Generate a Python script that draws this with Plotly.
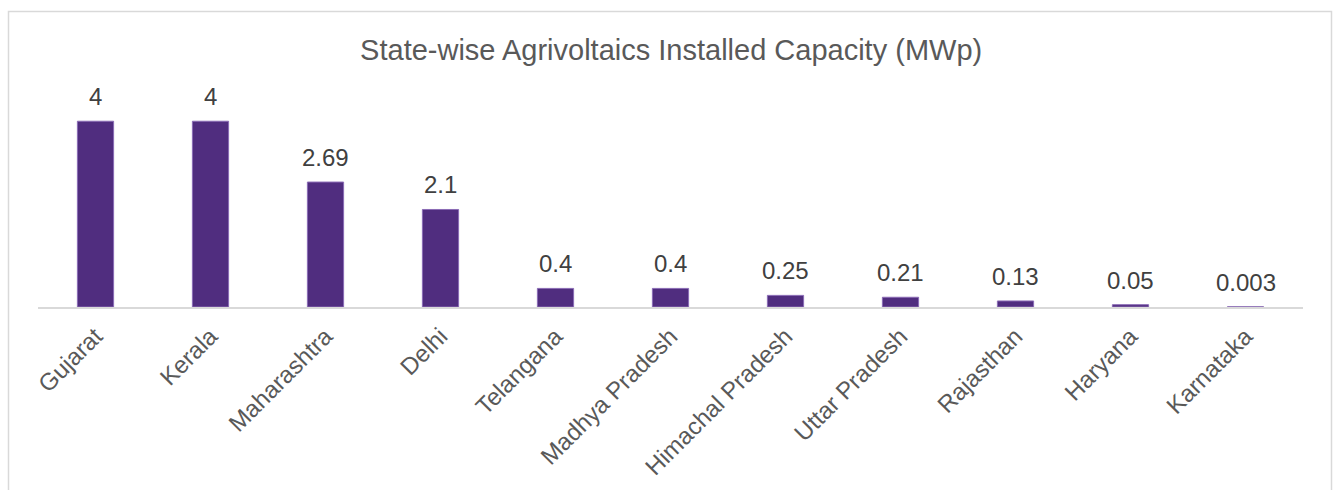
import plotly.graph_objects as go

states = ["Gujarat", "Kerala", "Maharashtra", "Delhi", "Telangana", "Madhya Pradesh",
          "Himachal Pradesh", "Uttar Pradesh", "Rajasthan", "Haryana", "Karnataka"]
capacity = [4, 4, 2.69, 2.1, 0.4, 0.4, 0.25, 0.21, 0.13, 0.05, 0.003]
labels = ["4", "4", "2.69", "2.1", "0.4", "0.4", "0.25", "0.21", "0.13", "0.05", "0.003"]

FONT = "Liberation Sans, Arial, sans-serif"

fig = go.Figure()
fig.add_trace(go.Bar(
    x=states, y=capacity,
    marker=dict(color="#502D7F", line=dict(color="#8A6BB5", width=1)),
    width=0.315,
    hoverinfo="skip",
))

for s, v, t in zip(states, capacity, labels):
    fig.add_annotation(x=s, y=v, text=t, showarrow=False, yanchor="bottom",
                       yshift=9, font=dict(family=FONT, size=24, color="#404040"))

fig.update_layout(
    width=1333, height=490,
    margin=dict(l=38, r=30, t=98, b=183, autoexpand=False),
    paper_bgcolor="white", plot_bgcolor="white",
    showlegend=False,
    title=dict(text="State-wise Agrivoltaics Installed Capacity (MWp)",
               x=0.5035, xanchor="center", y=0.898, yanchor="middle",
               font=dict(family=FONT, size=29, color="#595959")),
    xaxis=dict(showline=True, linecolor="#D9D9D9", linewidth=1.5,
               ticks="outside", ticklen=4, tickcolor="rgba(255,255,255,0)",
               tickangle=-45, tickfont=dict(family=FONT, size=24, color="#595959"),
               showgrid=False, automargin=False),
    yaxis=dict(range=[0, 4.5], visible=False, showgrid=False, zeroline=False),
    shapes=[dict(type="rect", xref="paper", yref="paper",
                 x0=(8.5 - 38) / 1265, x1=(1331.5 - 38) / 1265,
                 y0=-1.0, y1=(307 - 11.5) / 209,
                 line=dict(color="#D9D9D9", width=1.5), fillcolor="rgba(0,0,0,0)",
                 layer="below")],
)

fig.write_html("out.html")
